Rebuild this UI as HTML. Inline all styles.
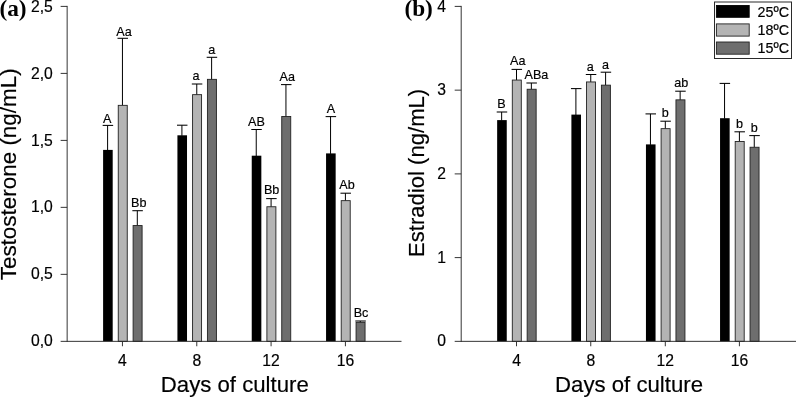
<!DOCTYPE html>
<html lang="en"><head><meta charset="utf-8"><title>Testosterone and estradiol by days of culture</title>
<style>html,body{margin:0;padding:0;background:#fff;}body{width:796px;height:397px;overflow:hidden;}svg{display:block;will-change:transform;filter:grayscale(1);}svg text{font-family:"Liberation Sans",sans-serif;fill:#000;stroke:#000;stroke-width:0.18px;}</style>
</head><body>
<svg width="796" height="397" viewBox="0 0 796 397">
<rect x="0" y="0" width="796" height="397" fill="#ffffff"/>
<line x1="107.60" y1="125.40" x2="107.60" y2="150.40" stroke="#000000" stroke-width="1.0"/>
<line x1="102.65" y1="125.40" x2="113.15" y2="125.40" stroke="#000000" stroke-width="1.05"/>
<rect x="103.10" y="149.90" width="9.6" height="191.45" fill="#000000"/>
<line x1="122.45" y1="38.30" x2="122.45" y2="105.50" stroke="#000000" stroke-width="1.0"/>
<line x1="117.50" y1="38.30" x2="128.00" y2="38.30" stroke="#000000" stroke-width="1.05"/>
<rect x="118.25" y="105.35" width="9.0" height="236.00" fill="#b4b4b4" stroke="#222222" stroke-width="0.9"/>
<line x1="137.30" y1="210.70" x2="137.30" y2="225.70" stroke="#000000" stroke-width="1.0"/>
<line x1="132.35" y1="210.70" x2="142.85" y2="210.70" stroke="#000000" stroke-width="1.05"/>
<rect x="133.10" y="225.55" width="9.0" height="115.80" fill="#6e6e6e" stroke="#222222" stroke-width="0.9"/>
<line x1="181.92" y1="125.20" x2="181.92" y2="135.80" stroke="#000000" stroke-width="1.0"/>
<line x1="176.97" y1="125.20" x2="187.47" y2="125.20" stroke="#000000" stroke-width="1.05"/>
<rect x="177.42" y="135.30" width="9.6" height="206.05" fill="#000000"/>
<line x1="196.77" y1="84.00" x2="196.77" y2="94.80" stroke="#000000" stroke-width="1.0"/>
<line x1="191.82" y1="84.00" x2="202.32" y2="84.00" stroke="#000000" stroke-width="1.05"/>
<rect x="192.57" y="94.65" width="9.0" height="246.70" fill="#b4b4b4" stroke="#222222" stroke-width="0.9"/>
<line x1="211.62" y1="57.30" x2="211.62" y2="79.50" stroke="#000000" stroke-width="1.0"/>
<line x1="206.67" y1="57.30" x2="217.17" y2="57.30" stroke="#000000" stroke-width="1.05"/>
<rect x="207.42" y="79.35" width="9.0" height="262.00" fill="#6e6e6e" stroke="#222222" stroke-width="0.9"/>
<line x1="256.24" y1="129.50" x2="256.24" y2="156.20" stroke="#000000" stroke-width="1.0"/>
<line x1="251.29" y1="129.50" x2="261.79" y2="129.50" stroke="#000000" stroke-width="1.05"/>
<rect x="251.74" y="155.70" width="9.6" height="185.65" fill="#000000"/>
<line x1="271.09" y1="198.60" x2="271.09" y2="206.90" stroke="#000000" stroke-width="1.0"/>
<line x1="266.14" y1="198.60" x2="276.64" y2="198.60" stroke="#000000" stroke-width="1.05"/>
<rect x="266.89" y="206.75" width="9.0" height="134.60" fill="#b4b4b4" stroke="#222222" stroke-width="0.9"/>
<line x1="285.94" y1="84.60" x2="285.94" y2="116.60" stroke="#000000" stroke-width="1.0"/>
<line x1="280.99" y1="84.60" x2="291.49" y2="84.60" stroke="#000000" stroke-width="1.05"/>
<rect x="281.74" y="116.45" width="9.0" height="224.90" fill="#6e6e6e" stroke="#222222" stroke-width="0.9"/>
<line x1="330.56" y1="116.60" x2="330.56" y2="153.90" stroke="#000000" stroke-width="1.0"/>
<line x1="325.61" y1="116.60" x2="336.11" y2="116.60" stroke="#000000" stroke-width="1.05"/>
<rect x="326.06" y="153.40" width="9.6" height="187.95" fill="#000000"/>
<line x1="345.41" y1="193.20" x2="345.41" y2="200.80" stroke="#000000" stroke-width="1.0"/>
<line x1="340.46" y1="193.20" x2="350.96" y2="193.20" stroke="#000000" stroke-width="1.05"/>
<rect x="341.21" y="200.65" width="9.0" height="140.70" fill="#b4b4b4" stroke="#222222" stroke-width="0.9"/>
<line x1="360.26" y1="321.00" x2="360.26" y2="322.50" stroke="#000000" stroke-width="1.0"/>
<line x1="355.31" y1="321.00" x2="365.81" y2="321.00" stroke="#000000" stroke-width="1.05"/>
<rect x="356.06" y="322.35" width="9.0" height="19.00" fill="#6e6e6e" stroke="#222222" stroke-width="0.9"/>
<line x1="67.15" y1="5.90" x2="67.15" y2="341.85" stroke="#2a2a2a" stroke-width="0.95"/>
<line x1="60.65" y1="341.35" x2="401.50" y2="341.35" stroke="#2a2a2a" stroke-width="0.95"/>
<text x="52.85" y="346.45" font-size="15.7" text-anchor="end" >0,0</text>
<line x1="60.65" y1="274.35" x2="67.15" y2="274.35" stroke="#2a2a2a" stroke-width="0.95"/>
<text x="52.85" y="279.45" font-size="15.7" text-anchor="end" >0,5</text>
<line x1="60.65" y1="207.35" x2="67.15" y2="207.35" stroke="#2a2a2a" stroke-width="0.95"/>
<text x="52.85" y="212.45" font-size="15.7" text-anchor="end" >1,0</text>
<line x1="60.65" y1="140.40" x2="67.15" y2="140.40" stroke="#2a2a2a" stroke-width="0.95"/>
<text x="52.85" y="145.50" font-size="15.7" text-anchor="end" >1,5</text>
<line x1="60.65" y1="73.40" x2="67.15" y2="73.40" stroke="#2a2a2a" stroke-width="0.95"/>
<text x="52.85" y="78.50" font-size="15.7" text-anchor="end" >2,0</text>
<line x1="60.65" y1="6.40" x2="67.15" y2="6.40" stroke="#2a2a2a" stroke-width="0.95"/>
<text x="52.85" y="11.50" font-size="15.7" text-anchor="end" >2,5</text>
<line x1="122.45" y1="341.35" x2="122.45" y2="346.25" stroke="#2a2a2a" stroke-width="0.95"/>
<text x="122.45" y="365.60" font-size="15.7" text-anchor="middle" >4</text>
<line x1="196.77" y1="341.35" x2="196.77" y2="346.25" stroke="#2a2a2a" stroke-width="0.95"/>
<text x="196.77" y="365.60" font-size="15.7" text-anchor="middle" >8</text>
<line x1="271.09" y1="341.35" x2="271.09" y2="346.25" stroke="#2a2a2a" stroke-width="0.95"/>
<text x="271.09" y="365.60" font-size="15.7" text-anchor="middle" >12</text>
<line x1="345.41" y1="341.35" x2="345.41" y2="346.25" stroke="#2a2a2a" stroke-width="0.95"/>
<text x="345.41" y="365.60" font-size="15.7" text-anchor="middle" >16</text>
<text x="107.30" y="122.70" font-size="12.6" text-anchor="middle" >A</text>
<text x="124.00" y="36.00" font-size="12.6" text-anchor="middle" >Aa</text>
<text x="138.80" y="206.80" font-size="12.6" text-anchor="middle" >Bb</text>
<text x="195.90" y="79.80" font-size="12.6" text-anchor="middle" >a</text>
<text x="211.70" y="54.00" font-size="12.6" text-anchor="middle" >a</text>
<text x="256.40" y="125.70" font-size="12.6" text-anchor="middle" >AB</text>
<text x="271.60" y="193.50" font-size="12.6" text-anchor="middle" >Bb</text>
<text x="287.20" y="80.60" font-size="12.6" text-anchor="middle" >Aa</text>
<text x="330.90" y="113.10" font-size="12.6" text-anchor="middle" >A</text>
<text x="347.00" y="189.20" font-size="12.6" text-anchor="middle" >Ab</text>
<text x="361.00" y="317.20" font-size="12.6" text-anchor="middle" >Bc</text>
<text transform="translate(234.80 392.10) scale(1 1.03)" font-size="22.2" text-anchor="middle" >Days of culture</text>
<text x="16.00" y="174.30" font-size="22.45" text-anchor="middle" transform="rotate(-90 16.00 174.30)">Testosterone (ng/mL)</text>
<text x="-0.60" y="16.2" font-size="23.3" style="font-family:'Liberation Serif',serif;font-weight:bold;fill:#000;stroke:none">(a)</text>
<line x1="501.65" y1="112.00" x2="501.65" y2="120.60" stroke="#000000" stroke-width="1.0"/>
<line x1="496.70" y1="112.00" x2="507.20" y2="112.00" stroke="#000000" stroke-width="1.05"/>
<rect x="497.15" y="120.10" width="9.6" height="221.25" fill="#000000"/>
<line x1="516.50" y1="69.40" x2="516.50" y2="80.20" stroke="#000000" stroke-width="1.0"/>
<line x1="511.55" y1="69.40" x2="522.05" y2="69.40" stroke="#000000" stroke-width="1.05"/>
<rect x="512.30" y="80.05" width="9.0" height="261.30" fill="#b4b4b4" stroke="#222222" stroke-width="0.9"/>
<line x1="531.35" y1="83.00" x2="531.35" y2="89.40" stroke="#000000" stroke-width="1.0"/>
<line x1="526.40" y1="83.00" x2="536.90" y2="83.00" stroke="#000000" stroke-width="1.05"/>
<rect x="527.15" y="89.25" width="9.0" height="252.10" fill="#6e6e6e" stroke="#222222" stroke-width="0.9"/>
<line x1="575.90" y1="88.60" x2="575.90" y2="115.10" stroke="#000000" stroke-width="1.0"/>
<line x1="570.95" y1="88.60" x2="581.45" y2="88.60" stroke="#000000" stroke-width="1.05"/>
<rect x="571.40" y="114.60" width="9.6" height="226.75" fill="#000000"/>
<line x1="590.75" y1="74.50" x2="590.75" y2="82.10" stroke="#000000" stroke-width="1.0"/>
<line x1="585.80" y1="74.50" x2="596.30" y2="74.50" stroke="#000000" stroke-width="1.05"/>
<rect x="586.55" y="81.95" width="9.0" height="259.40" fill="#b4b4b4" stroke="#222222" stroke-width="0.9"/>
<line x1="605.60" y1="72.20" x2="605.60" y2="85.30" stroke="#000000" stroke-width="1.0"/>
<line x1="600.65" y1="72.20" x2="611.15" y2="72.20" stroke="#000000" stroke-width="1.05"/>
<rect x="601.40" y="85.15" width="9.0" height="256.20" fill="#6e6e6e" stroke="#222222" stroke-width="0.9"/>
<line x1="650.45" y1="113.90" x2="650.45" y2="144.90" stroke="#000000" stroke-width="1.0"/>
<line x1="645.50" y1="113.90" x2="656.00" y2="113.90" stroke="#000000" stroke-width="1.05"/>
<rect x="645.95" y="144.40" width="9.6" height="196.95" fill="#000000"/>
<line x1="665.30" y1="121.20" x2="665.30" y2="128.80" stroke="#000000" stroke-width="1.0"/>
<line x1="660.35" y1="121.20" x2="670.85" y2="121.20" stroke="#000000" stroke-width="1.05"/>
<rect x="661.10" y="128.65" width="9.0" height="212.70" fill="#b4b4b4" stroke="#222222" stroke-width="0.9"/>
<line x1="680.15" y1="91.20" x2="680.15" y2="100.00" stroke="#000000" stroke-width="1.0"/>
<line x1="675.20" y1="91.20" x2="685.70" y2="91.20" stroke="#000000" stroke-width="1.05"/>
<rect x="675.95" y="99.85" width="9.0" height="241.50" fill="#6e6e6e" stroke="#222222" stroke-width="0.9"/>
<line x1="724.55" y1="83.40" x2="724.55" y2="118.70" stroke="#000000" stroke-width="1.0"/>
<line x1="719.60" y1="83.40" x2="730.10" y2="83.40" stroke="#000000" stroke-width="1.05"/>
<rect x="720.05" y="118.20" width="9.6" height="223.15" fill="#000000"/>
<line x1="739.40" y1="131.80" x2="739.40" y2="141.60" stroke="#000000" stroke-width="1.0"/>
<line x1="734.45" y1="131.80" x2="744.95" y2="131.80" stroke="#000000" stroke-width="1.05"/>
<rect x="735.20" y="141.45" width="9.0" height="199.90" fill="#b4b4b4" stroke="#222222" stroke-width="0.9"/>
<line x1="754.25" y1="135.60" x2="754.25" y2="147.40" stroke="#000000" stroke-width="1.0"/>
<line x1="749.30" y1="135.60" x2="759.80" y2="135.60" stroke="#000000" stroke-width="1.05"/>
<rect x="750.05" y="147.25" width="9.0" height="194.10" fill="#6e6e6e" stroke="#222222" stroke-width="0.9"/>
<line x1="461.20" y1="5.90" x2="461.20" y2="341.85" stroke="#2a2a2a" stroke-width="0.95"/>
<line x1="454.70" y1="341.35" x2="796.00" y2="341.35" stroke="#2a2a2a" stroke-width="0.95"/>
<text x="446.00" y="346.45" font-size="15.7" text-anchor="end" >0</text>
<line x1="454.70" y1="257.60" x2="461.20" y2="257.60" stroke="#2a2a2a" stroke-width="0.95"/>
<text x="446.00" y="262.70" font-size="15.7" text-anchor="end" >1</text>
<line x1="454.70" y1="173.90" x2="461.20" y2="173.90" stroke="#2a2a2a" stroke-width="0.95"/>
<text x="446.00" y="179.00" font-size="15.7" text-anchor="end" >2</text>
<line x1="454.70" y1="90.15" x2="461.20" y2="90.15" stroke="#2a2a2a" stroke-width="0.95"/>
<text x="446.00" y="95.25" font-size="15.7" text-anchor="end" >3</text>
<line x1="454.70" y1="6.40" x2="461.20" y2="6.40" stroke="#2a2a2a" stroke-width="0.95"/>
<text x="446.00" y="11.50" font-size="15.7" text-anchor="end" >4</text>
<line x1="516.50" y1="341.35" x2="516.50" y2="346.25" stroke="#2a2a2a" stroke-width="0.95"/>
<text x="516.50" y="365.60" font-size="15.7" text-anchor="middle" >4</text>
<line x1="590.75" y1="341.35" x2="590.75" y2="346.25" stroke="#2a2a2a" stroke-width="0.95"/>
<text x="590.75" y="365.60" font-size="15.7" text-anchor="middle" >8</text>
<line x1="665.30" y1="341.35" x2="665.30" y2="346.25" stroke="#2a2a2a" stroke-width="0.95"/>
<text x="665.30" y="365.60" font-size="15.7" text-anchor="middle" >12</text>
<line x1="739.40" y1="341.35" x2="739.40" y2="346.25" stroke="#2a2a2a" stroke-width="0.95"/>
<text x="739.40" y="365.60" font-size="15.7" text-anchor="middle" >16</text>
<text x="501.40" y="108.00" font-size="12.6" text-anchor="middle" >B</text>
<text x="517.70" y="64.50" font-size="12.6" text-anchor="middle" >Aa</text>
<text x="536.40" y="78.70" font-size="12.6" text-anchor="middle" >ABa</text>
<text x="590.20" y="70.70" font-size="12.6" text-anchor="middle" >a</text>
<text x="605.60" y="69.00" font-size="12.6" text-anchor="middle" >a</text>
<text x="665.30" y="117.20" font-size="12.6" text-anchor="middle" >b</text>
<text x="681.20" y="87.00" font-size="12.6" text-anchor="middle" >ab</text>
<text x="739.40" y="128.30" font-size="12.6" text-anchor="middle" >b</text>
<text x="754.30" y="132.30" font-size="12.6" text-anchor="middle" >b</text>
<text transform="translate(629.00 392.10) scale(1 1.03)" font-size="22.2" text-anchor="middle" >Days of culture</text>
<text x="424.10" y="172.90" font-size="22.1" text-anchor="middle" transform="rotate(-90 424.10 172.90)">Estradiol (ng/mL)</text>
<text x="404.40" y="16.2" font-size="23.3" style="font-family:'Liberation Serif',serif;font-weight:bold;fill:#000;stroke:none">(b)</text>
<rect x="714.5" y="2.0" width="77" height="56.5" fill="#fff" stroke="#2a2a2a" stroke-width="1"/>
<rect x="716.4" y="5.50" width="32.8" height="11.8" fill="#000000" stroke="#000000" stroke-width="0.9"/>
<text x="757.60" y="16.50" font-size="14.3" text-anchor="start" >25ºC</text>
<rect x="716.4" y="23.90" width="32.8" height="12.2" fill="#b4b4b4" stroke="#222222" stroke-width="0.9"/>
<text x="757.60" y="34.90" font-size="14.3" text-anchor="start" >18ºC</text>
<rect x="716.4" y="42.00" width="32.8" height="12.2" fill="#6e6e6e" stroke="#222222" stroke-width="0.9"/>
<text x="757.60" y="53.00" font-size="14.3" text-anchor="start" >15ºC</text>
</svg>
</body></html>
